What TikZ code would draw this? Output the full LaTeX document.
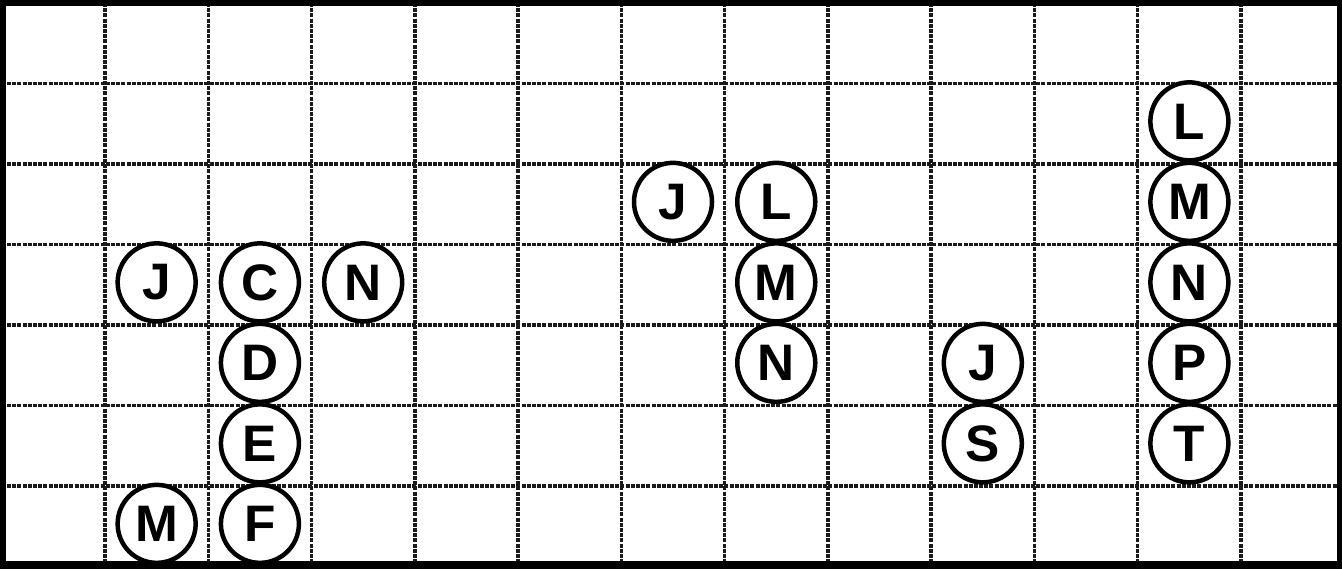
\documentclass[tikz,border=0pt]{standalone}
\usepackage{fontspec}
\setmainfont{Liberation Sans}
\begin{document}
\begin{tikzpicture}[x=1.0327cm, y=-0.805cm]
    \def\numCols{13}
    \def\numRows{7}
    \definecolor{gridColour}{HTML}{1A1A1A}

    \tikzset{
        gridline/.style={gridColour, line width=0.035cm, dash pattern=on 0.04cm off 0.012cm},
        token/.style={circle, draw=black, line width=0.045cm, fill=white, minimum size=0.78cm, inner sep=0pt,
            font=\fontsize{14.6}{16}\selectfont\bfseries}
    }

    \useasboundingbox (-0.0168,-0.0373) rectangle (12.978,7.0186);

    % Draw grid
    \foreach \x in {1,...,12}
        \draw[gridline] (\x,0) -- (\x,\numRows);
    \foreach \y in {1,...,6}
        \draw[gridline] (0,\y) -- (\numCols,\y);

    % Tokens: label / column / row
    \foreach \lbl/\cx/\cy in {L/11/1,
                              J/6/2, L/7/2, M/11/2,
                              J/1/3, C/2/3, N/3/3, M/7/3, N/11/3,
                              D/2/4, N/7/4, J/9/4, P/11/4,
                              E/2/5, S/9/5, T/11/5,
                              M/1/6, F/2/6}
        \node[token] (t\cx-\cy) at (\cx+0.5,\cy+0.47) {\lbl};

    % Outer frame
    \draw[black, line width=0.06cm] (0.0075,-0.006) rectangle (12.955,6.963);
    \draw[black, line width=0.09cm] (-0.0168,6.982) -- (12.978,6.982);
\end{tikzpicture}
\end{document}
